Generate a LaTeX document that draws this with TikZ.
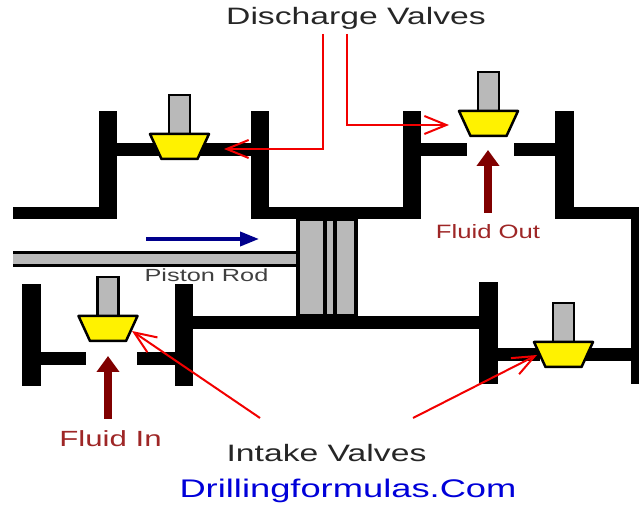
\documentclass[tikz,border=0pt]{standalone}
\usepackage{fontspec}
\setmainfont{Liberation Sans}
\usetikzlibrary{arrows.meta}

\begin{document}
\begin{tikzpicture}[
  x=0.2mm, y=-0.2mm,
  >=Stealth,
  wallfill/.style={fill=black},
  valvebody/.style={draw=black, fill=yellow, line width=0.5mm, line join=round},
  valvestem/.style={draw=black, fill=gray!55, line width=0.5mm},
  pistonpart/.style={draw=black, fill=gray!55, line width=0.75mm},
  rodfill/.style={fill=gray!55},
  rodline/.style={draw=black, line width=0.55mm},
  leader/.style={-{Straight Barb[length=4.4mm, width=3.6mm, line width=0.4mm]}, draw=red!95!black, line width=0.4mm},
  flowarrow/.style={-{Triangle[length=3.2mm, width=4.4mm]}, draw=red!50!black, line width=1.5mm},
  strokearrow/.style={-{Triangle[length=3.8mm, width=2.8mm]}, draw=blue!55!black, line width=0.75mm},
  biglabel/.style={inner sep=0pt, font=\fontsize{13.5}{15}\selectfont, text=black!85, xscale=1.42, transform shape},
  fluidout/.style={inner sep=0pt, font=\fontsize{11}{13}\selectfont, text=red!55!black!85, xscale=1.33, transform shape},
  fluidin/.style={inner sep=0pt, font=\fontsize{12.5}{14}\selectfont, text=red!55!black!85, xscale=1.42, transform shape},
  rodlabel/.style={inner sep=0pt, font=\fontsize{10}{12}\selectfont, text=black!75, xscale=1.44, transform shape},
  sitelabel/.style={inner sep=0pt, font=\fontsize{14.5}{17}\selectfont, text=blue!85!black, xscale=1.425, transform shape}
]
  \useasboundingbox (0,0) rectangle (639,505);

  \foreach \xa/\ya/\xb/\yb in {
    13/207/117/219, 99/111/117/219, 117/143/160/156, 200/143/269/156, 251/111/269/219,
    269/207/421/219, 403/111/421/219, 421/143/467/156, 514/143/574/156, 555/111/574/219,
    574/207/639/219, 631/207/639/384,
    22/284/41/386, 41/352/86/365, 137/352/193/365, 175/284/193/386,
    193/316/498/329, 479/282/498/384, 498/348/540/361, 585/348/639/361}
    \fill[wallfill] (\xa,\ya) rectangle (\xb,\yb);

  \fill[rodfill] (13,252.5) rectangle (298,265.5);
  \draw[rodline] (13,252.5) -- (298,252.5);
  \draw[rodline] (13,265.5) -- (298,265.5);
  \draw[pistonpart] (298,219) rectangle (325,316);
  \draw[pistonpart] (325,219) rectangle (335,316);
  \draw[pistonpart] (335,219) rectangle (356,316);

  \foreach \vx/\vy in {179.5/134, 488.5/111, 108/316, 563.5/342} {
    \draw[valvestem] (\vx-10.5,\vy-39) rectangle (\vx+10.5,\vy);
    \draw[valvebody] (\vx-29.5,\vy) -- (\vx+29.5,\vy) -- (\vx+18,\vy+25) -- (\vx-18,\vy+25) -- cycle;
  }

  \node[biglabel] (discharge) at (356,18) {Discharge Valves};
  \node[biglabel] (intake) at (326.5,453) {Intake Valves};
  \node[fluidout] (fluidoutlabel) at (488,232) {Fluid Out};
  \node[fluidin] (fluidinlabel) at (110.5,439) {Fluid In};
  \node[rodlabel] (pistonrod) at (206.5,275) {Piston Rod};
  \node[sitelabel] (site) at (348,491) {Drillingformulas.Com};

  \coordinate (dleft) at (323,34);
  \coordinate (dleftend) at (224,149);
  \coordinate (dright) at (347,34);
  \coordinate (drightend) at (449,125);
  \coordinate (ileft) at (260,418);
  \coordinate (ileftend) at (132,331);
  \coordinate (iright) at (413,418);
  \coordinate (irightend) at (537,355);
  \coordinate (outfrom) at (488,213);
  \coordinate (outto) at (488,150);
  \coordinate (infrom) at (108,419);
  \coordinate (into) at (108,356);
  \coordinate (strokefrom) at (146,239);
  \coordinate (stroketo) at (259,239);

  \draw[leader] (dleft) |- (dleftend);
  \draw[leader] (dright) |- (drightend);
  \draw[leader] (ileft) -- (ileftend);
  \draw[leader] (iright) -- (irightend);
  \draw[flowarrow] (outfrom) -- (outto);
  \draw[flowarrow] (infrom) -- (into);
  \draw[strokearrow] (strokefrom) -- (stroketo);
\end{tikzpicture}
\end{document}
